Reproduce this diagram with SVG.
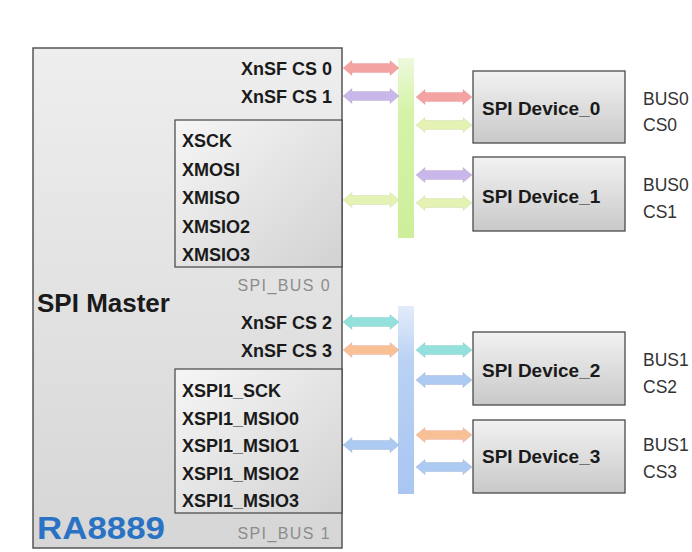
<svg xmlns="http://www.w3.org/2000/svg" width="692" height="552" viewBox="0 0 692 552">
<defs>
<linearGradient id="gMain" x1="0" y1="0" x2="0" y2="1"><stop offset="0" stop-color="#eeeeee"/><stop offset="1" stop-color="#d6d6d6"/></linearGradient>
<linearGradient id="gBox" x1="0" y1="0" x2="0" y2="1"><stop offset="0" stop-color="#f2f2f2"/><stop offset="1" stop-color="#c9c9c9"/></linearGradient>
<linearGradient id="gInner" x1="0" y1="0" x2="1" y2="1"><stop offset="0" stop-color="#f6f6f6"/><stop offset="1" stop-color="#d2d2d2"/></linearGradient>
<linearGradient id="gGreen" x1="0" y1="0" x2="0" y2="1"><stop offset="0" stop-color="#eef9dc"/><stop offset="0.3" stop-color="#d4f3a8"/><stop offset="1" stop-color="#cdef9c"/></linearGradient>
<linearGradient id="gBlue" x1="0" y1="0" x2="0" y2="1"><stop offset="0" stop-color="#e2ecfa"/><stop offset="0.3" stop-color="#b9d1f4"/><stop offset="1" stop-color="#a9c6f2"/></linearGradient>
<path id="dbl" d="M0 0 L9 -7.5 L9 -4.5 L47 -4.5 L47 -7.5 L56 0 L47 7.5 L47 4.5 L9 4.5 L9 7.5 Z"/>
</defs>
<style>
.b{font-family:"Liberation Sans",Arial,sans-serif;font-weight:bold;font-size:18px;fill:#1a1a1a}
.r{text-anchor:end}
.bus{font-family:"Liberation Sans",Arial,sans-serif;font-size:16px;letter-spacing:1.4px;fill:#8c8c8c;text-anchor:end}
.lbl{font-family:"Liberation Sans",Arial,sans-serif;font-size:17.5px;fill:#333}
.dn{font-size:19px}
.dev{fill:url(#gBox);stroke:#4a4a4a;stroke-width:1.3}
.inner{fill:url(#gInner);stroke:#444;stroke-width:1.2}
.a{stroke-width:0.6;stroke-opacity:0.5}
</style>
<rect width="692" height="552" fill="#ffffff"/>
<g id="master">
<rect x="33" y="48" width="309" height="500" fill="url(#gMain)" stroke="#555" stroke-width="1.5"/>
<text class="b r" x="332" y="75">XnSF CS 0</text>
<text class="b r" x="332" y="103">XnSF CS 1</text>
<text class="bus" x="331" y="291">SPI_BUS 0</text>
<text class="b" x="37" y="312" style="font-size:26px">SPI Master</text>
<text class="b r" x="332" y="329">XnSF CS 2</text>
<text class="b r" x="332" y="357">XnSF CS 3</text>
<text class="b" x="37" y="539" style="font-size:31px;fill:#2a73c4" textLength="128" lengthAdjust="spacingAndGlyphs">RA8889</text>
<text class="bus" x="331" y="539">SPI_BUS 1</text>
</g>
<g id="bus0">
<rect class="inner" x="175" y="120" width="167" height="147"/>
<text class="b" x="182" y="147">XSCK</text>
<text class="b" x="182" y="176">XMOSI</text>
<text class="b" x="182" y="204">XMISO</text>
<text class="b" x="182" y="233">XMSIO2</text>
<text class="b" x="182" y="261">XMSIO3</text>
</g>
<g id="bus1">
<rect class="inner" x="175" y="369" width="167" height="144"/>
<text class="b" x="182" y="397">XSPI1_SCK</text>
<text class="b" x="182" y="425">XSPI1_MSIO0</text>
<text class="b" x="182" y="452">XSPI1_MSIO1</text>
<text class="b" x="182" y="480">XSPI1_MSIO2</text>
<text class="b" x="182" y="507">XSPI1_MSIO3</text>
</g>
<g id="dev0">
<rect class="dev" x="473" y="71" width="152" height="72"/>
<text class="b dn" x="482" y="115">SPI Device_0</text>
<text class="lbl" x="643" y="105">BUS0</text>
<text class="lbl" x="643" y="131">CS0</text>
</g>
<g id="dev1">
<rect class="dev" x="473" y="157" width="152" height="74"/>
<text class="b dn" x="482" y="203">SPI Device_1</text>
<text class="lbl" x="643" y="191">BUS0</text>
<text class="lbl" x="643" y="218">CS1</text>
</g>
<g id="dev2">
<rect class="dev" x="473" y="332" width="152" height="73"/>
<text class="b dn" x="482" y="377">SPI Device_2</text>
<text class="lbl" x="643" y="366">BUS1</text>
<text class="lbl" x="643" y="393">CS2</text>
</g>
<g id="dev3">
<rect class="dev" x="473" y="420" width="152" height="73"/>
<text class="b dn" x="482" y="463">SPI Device_3</text>
<text class="lbl" x="643" y="451">BUS1</text>
<text class="lbl" x="643" y="478">CS3</text>
</g>
<g id="connectors">
<rect x="398" y="58" width="16" height="180" fill="url(#gGreen)"/>
<rect x="398" y="306" width="16" height="188" fill="url(#gBlue)"/>
<use href="#dbl" x="343" y="68" fill="#f4a3a3" stroke="#d88" class="a"/>
<use href="#dbl" x="343" y="96" fill="#c9b6ea" stroke="#a9a" class="a"/>
<use href="#dbl" x="343" y="200" fill="#e4f3b4" stroke="#bc9" class="a"/>
<use href="#dbl" x="416" y="97" fill="#f4a3a3" stroke="#d88" class="a"/>
<use href="#dbl" x="416" y="125" fill="#e4f3b4" stroke="#bc9" class="a"/>
<use href="#dbl" x="416" y="175" fill="#c9b6ea" stroke="#a9a" class="a"/>
<use href="#dbl" x="416" y="203" fill="#e4f3b4" stroke="#bc9" class="a"/>
<use href="#dbl" x="343" y="322" fill="#93e0dc" stroke="#7bb" class="a"/>
<use href="#dbl" x="343" y="350" fill="#f8c195" stroke="#d9a" class="a"/>
<use href="#dbl" x="343" y="445" fill="#accaf2" stroke="#89b" class="a"/>
<use href="#dbl" x="416" y="350" fill="#93e0dc" stroke="#7bb" class="a"/>
<use href="#dbl" x="416" y="380" fill="#accaf2" stroke="#89b" class="a"/>
<use href="#dbl" x="416" y="435" fill="#f8c195" stroke="#d9a" class="a"/>
<use href="#dbl" x="416" y="467" fill="#accaf2" stroke="#89b" class="a"/>
</g>
</svg>
